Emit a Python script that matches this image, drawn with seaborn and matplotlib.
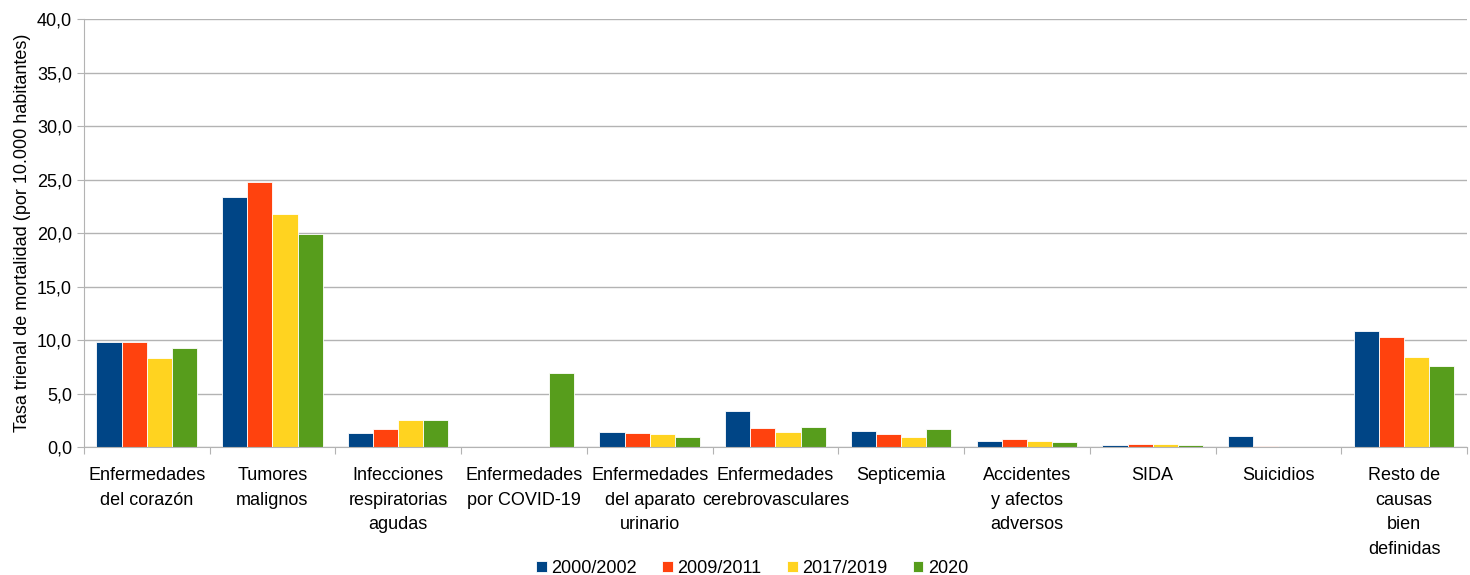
import pandas as pd
import seaborn as sns
import matplotlib.pyplot as plt
import numpy as np
from matplotlib.ticker import FuncFormatter, FixedLocator

# Data
causas = ['Enfermedades\ndel corazón', 'Tumores\nmalignos', 'Infecciones\nrespiratorias\nagudas',
          'Enfermedades\npor COVID-19', 'Enfermedades\ndel aparato\nurinario', 'Enfermedades\ncerebrovasculares',
          'Septicemia', 'Accidentes\ny afectos\nadversos', 'SIDA', 'Suicidios',
          'Resto de\ncausas\nbien\ndefinidas']
periodos = ['2000/2002', '2009/2011', '2017/2019', '2020']
v_2000 = [9.8, 23.4, 1.35, 0.0, 1.4, 3.4, 1.5, 0.6, 0.2, 1.1, 10.9]
v_2009 = [9.8, 24.8, 1.75, 0.0, 1.3, 1.8, 1.2, 0.8, 0.3, 0.08, 10.3]
v_2017 = [8.3, 21.8, 2.55, 0.0, 1.2, 1.4, 1.0, 0.6, 0.3, 0.0, 8.4]
v_2020 = [9.3, 19.9, 2.6, 6.95, 1.0, 1.9, 1.7, 0.5, 0.2, 0.0, 7.6]
colores = ['#004586', '#ff420e', '#ffd320', '#579d1c']

df = pd.DataFrame({'causa': causas * 4,
                   'periodo': np.repeat(periodos, len(causas)),
                   'tasa': v_2000 + v_2009 + v_2017 + v_2020})

plt.rcParams['font.family'] = ['Liberation Sans', 'DejaVu Sans']
fig, ax = plt.subplots(figsize=[14.7, 5.75], dpi=100)
fig.subplots_adjust(left=0.057, right=0.998, top=0.967, bottom=0.222)

sns.barplot(data=df, x='causa', y='tasa', hue='periodo', palette=colores, width=0.8,
            saturation=1, edgecolor='white', linewidth=0.6, ax=ax)

ax.set_ylim(0, 40)
ax.set_xlim(-0.5, len(causas) - 0.5)
ax.set_yticks(np.arange(0, 40.1, 5))
ax.yaxis.set_major_formatter(FuncFormatter(lambda v, p: f'{v:.1f}'.replace('.', ',')))
ax.grid(axis='y', color='#b3b3b3', linewidth=1)
ax.set_axisbelow(True)

# ticks at the category boundaries, labels in the middle
ax.xaxis.set_major_locator(FixedLocator(np.arange(-0.5, len(causas), 1)))
ax.xaxis.set_minor_locator(FixedLocator(np.arange(len(causas))))
ax.set_xticklabels([''] * (len(causas) + 1))
ax.set_xticklabels(causas, minor=True, fontsize=13, linespacing=1.6)
ax.tick_params(axis='x', which='major', length=5, color='#b3b3b3')
ax.tick_params(axis='x', which='minor', length=0, pad=14)
ax.tick_params(axis='y', length=5, color='#b3b3b3', labelsize=13)

for s in ['top', 'right']:
    ax.spines[s].set_visible(False)
for s in ['left', 'bottom']:
    ax.spines[s].set_color('#b3b3b3')

ax.set_xlabel('')
ax.set_ylabel('Tasa trienal de mortalidad (por 10.000 habitantes)', fontsize=13, labelpad=4)

ax.legend(loc='lower center', bbox_to_anchor=(0.483, -0.34), ncol=4, frameon=False,
          fontsize=13, handlelength=0.6, handleheight=0.6, handletextpad=0.25, columnspacing=1.4)

fig.savefig('out.png')
